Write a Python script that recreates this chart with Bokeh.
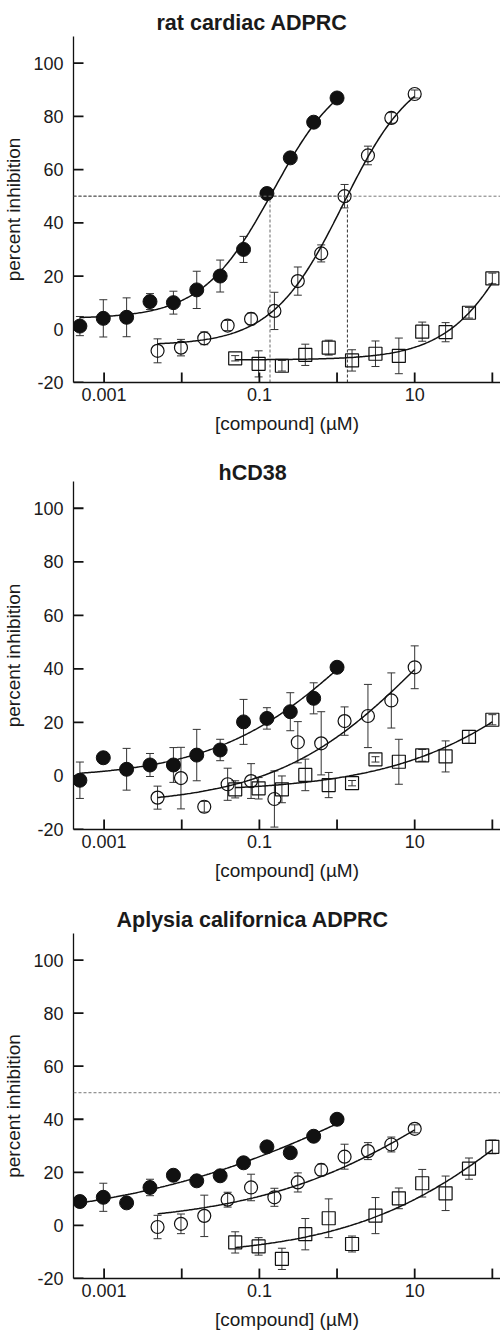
import numpy as np
from bokeh.plotting import figure
from bokeh.models import (Range1d, FixedTicker, CustomJSTickFormatter, Whisker,
                          ColumnDataSource, Title, TeeHead, Span)
from bokeh.layouts import column
from bokeh.embed import file_html
from bokeh.resources import INLINE

FONT = "Liberation Sans"
TXT = "#1a1a1a"

# ---------------- data ----------------
conc_filled = [0.000488, 0.000977, 0.00195, 0.0039, 0.00781, 0.0156, 0.03125, 0.0625, 0.125, 0.25, 0.5, 1.0]
conc_open = [0.00488, 0.00977, 0.0195, 0.039, 0.0781, 0.156, 0.3125, 0.625, 1.25, 2.5, 5.0, 10.0]
conc_square = [0.0488, 0.0977, 0.195, 0.39, 0.781, 1.56, 3.125, 6.25, 12.5, 25.0, 50.0, 100.0]

y_ticks = [-20, 0, 20, 40, 60, 80, 100]
x_major = [0.001, 0.1, 10]
x_minor = [0.01, 1, 100]
x_lo, x_hi = 10 ** -3.394, 10 ** 2.105
y_lo, y_hi = -20, 110

# panel 1: rat cardiac ADPRC
rat_filled = [1.2, 4.1, 4.5, 10.4, 10.0, 14.8, 20.0, 30.0, 51.0, 64.4, 77.8, 86.9]
rat_filled_err = [3.6, 7.0, 7.3, 3.0, 4.3, 7.0, 6.0, 4.9, 1.0, 1.0, 1.0, 1.0]
rat_open = [-8.1, -6.9, -3.4, 1.4, 3.9, 6.9, 18.1, 28.5, 50.0, 65.3, 79.4, 88.4]
rat_open_err = [4.5, 3.1, 2.4, 1.9, 2.2, 7.0, 5.3, 3.2, 4.4, 3.5, 2.0, 1.5]
rat_square = [-10.9, -13.0, -13.7, -9.6, -6.9, -11.7, -9.2, -10.0, -0.9, -1.1, 6.2, 19.1]
rat_square_err = [1.0, 4.9, 2.0, 4.0, 2.8, 4.0, 4.8, 6.7, 3.6, 3.6, 2.0, 2.0]
# fit parameters [bottom, top, IC50, Hill]
rat_fit_filled = [4.0, 100.0, 0.15, 0.95]
rat_fit_open = [-6.0, 100.0, 1.2, 0.95]
rat_fit_square = [-11.5, 100.0, 319.0, 0.9]
rat_ic50 = [0.137, 1.36]

# panel 2: hCD38
cd38_filled = [-1.6, 6.8, 2.5, 4.1, 4.1, 7.8, 9.7, 20.2, 21.5, 24.0, 29.0, 40.6]
cd38_filled_err = [6.8, 2.0, 7.8, 4.3, 6.5, 9.6, 4.0, 8.4, 4.0, 7.1, 5.8, 2.0]
cd38_open = [-8.1, -0.8, -11.5, -3.1, -1.9, -8.6, 12.6, 12.2, 20.5, 22.4, 28.2, 40.6]
cd38_open_err = [4.3, 11.5, 2.0, 6.0, 6.5, 10.5, 7.7, 11.8, 5.3, 11.8, 10.3, 8.0]
cd38_square = [-5.0, -4.6, -5.0, 0.4, -3.4, -2.7, 6.2, 5.3, 7.7, 7.3, 14.6, 21.0]
cd38_square_err = [3.2, 4.0, 5.0, 5.9, 4.7, 1.0, 1.0, 8.4, 2.2, 5.8, 2.4, 1.9]
cd38_fit_filled = [-1.0, 100.0, 2.33, 0.46]
cd38_fit_open = [-11.0, 100.0, 14.6, 0.45]
cd38_fit_square = [-6.0, 100.0, 1620.0, 0.4]

# panel 3: Aplysia californica ADPRC
apl_filled = [9.0, 10.6, 8.5, 14.3, 18.9, 16.8, 18.7, 23.6, 29.6, 27.4, 33.6, 40.0]
apl_filled_err = [1.5, 5.3, 2.0, 3.1, 1.5, 2.0, 1.5, 1.5, 1.5, 1.5, 1.5, 1.5]
apl_open = [-0.6, 0.6, 3.6, 9.7, 14.3, 10.6, 16.2, 20.9, 25.9, 28.0, 30.5, 36.4]
apl_open_err = [4.4, 3.7, 7.8, 2.8, 5.0, 3.4, 3.6, 2.2, 4.7, 3.2, 2.8, 1.5]
apl_square = [-6.4, -7.9, -12.6, -3.3, 2.7, -7.0, 3.7, 10.2, 15.9, 12.1, 21.4, 29.6]
apl_square_err = [4.0, 3.3, 4.0, 5.9, 7.3, 3.0, 6.8, 3.9, 5.2, 6.5, 4.0, 2.6]
apl_fit_filled = [0.0, 100.0, 6.7, 0.25]
apl_fit_open = [0.0, 100.0, 57.0, 0.33]
apl_fit_square = [-12.0, 100.0, 464.0, 0.37]

half_line = 50

FRAME_W = 427      # px, 500 - left border
TICK_PX = 10       # inward tick length


def hill(x, params):
    b, t, c, h = params
    return b + (t - b) / (1.0 + (c / x) ** h)


def add_series(p, conc, vals, errs, fit, kind):
    conc = np.array(conc)
    vals = np.array(vals)
    errs = np.array(errs)
    src = ColumnDataSource(dict(x=conc, y=vals, upper=vals + errs, lower=vals - errs))
    w = Whisker(source=src, base="x", upper="upper", lower="lower", dimension="height",
                line_color="#333333", line_width=1,
                upper_head=TeeHead(size=8, line_color="#333333", line_width=1),
                lower_head=TeeHead(size=8, line_color="#333333", line_width=1))
    p.add_layout(w)
    xs = np.logspace(np.log10(conc[0]), np.log10(conc[-1]), 200)
    p.line(xs, hill(xs, fit), line_color="#111111", line_width=1.5)
    if kind == "filled":
        p.scatter("x", "y", source=src, marker="circle", size=14,
                  fill_color="#111111", line_color="#111111")
    elif kind == "open":
        p.scatter("x", "y", source=src, marker="circle", size=13,
                  fill_color=None, line_color="#111111", line_width=1.2)
    else:
        p.scatter("x", "y", source=src, marker="square", size=13,
                  fill_color=None, line_color="#111111", line_width=1.2)


def make_panel(title, title_offset, title_standoff, height, top, bottom):
    frame_h = height - top - bottom
    p = figure(width=500, height=height, x_axis_type="log",
               x_range=Range1d(x_lo, x_hi), y_range=Range1d(y_lo, y_hi),
               output_backend="svg", toolbar_location=None,
               min_border_left=73, min_border_right=0,
               min_border_top=top, min_border_bottom=bottom)
    p.title = Title(text=title, align="left", offset=title_offset, standoff=title_standoff,
                    text_font=FONT, text_font_size="21.5px", text_font_style="bold",
                    text_color=TXT)
    p.outline_line_color = None
    p.xgrid.grid_line_color = None
    p.ygrid.grid_line_color = None
    p.background_fill_color = "white"
    p.border_fill_color = "white"

    p.xaxis.ticker = FixedTicker(ticks=x_major, minor_ticks=x_minor)
    p.xaxis.formatter = CustomJSTickFormatter(code="return tick.toString()")
    p.yaxis.ticker = FixedTicker(ticks=y_ticks)
    p.yaxis.formatter = CustomJSTickFormatter(code="return tick.toString()")
    for ax in (p.xaxis[0], p.yaxis[0]):
        ax.major_tick_in = 0
        ax.major_tick_out = 0
        ax.minor_tick_in = 0
        ax.minor_tick_out = 0
        ax.major_tick_line_color = None
        ax.minor_tick_line_color = None
        ax.axis_line_width = 1.3
        ax.axis_line_color = "#111111"
        ax.major_label_text_font = FONT
        ax.major_label_text_font_size = "18px"
        ax.major_label_text_color = TXT
        ax.axis_label_text_font = FONT
        ax.axis_label_text_font_size = "19px"
        ax.axis_label_text_font_style = "normal"
        ax.axis_label_text_color = TXT
    p.xaxis.major_label_standoff = 5
    p.xaxis.axis_label_standoff = 9
    p.yaxis.major_label_standoff = 10
    p.yaxis.axis_label_standoff = 6
    p.xaxis.axis_label = "[compound] (µM)"
    p.yaxis.axis_label = "percent inhibition"

    # inward tick marks (10 px) drawn inside the frame from the tick arrays
    dx = 10 ** (np.log10(x_lo) + TICK_PX * (np.log10(x_hi) - np.log10(x_lo)) / FRAME_W)
    dy = y_lo + TICK_PX * (y_hi - y_lo) / frame_h
    p.segment(x0=[x_lo] * len(y_ticks), y0=y_ticks, x1=[dx] * len(y_ticks), y1=y_ticks,
              line_color="#111111", line_width=1.8)
    xt = x_major + x_minor
    p.segment(x0=xt, y0=[y_lo] * len(xt), x1=xt, y1=[dy] * len(xt),
              line_color="#111111", line_width=1.8)
    return p


# ---- panel 1 ----
p1 = make_panel("rat cardiac ADPRC", 83, 4, 445, 36, 63)
p1.add_layout(Span(location=half_line, dimension="width", line_color="#777777",
                   line_dash="3 2", line_width=1))
p1.segment(x0=[x_lo], y0=[half_line], x1=[rat_ic50[1]], y1=[half_line],
           line_color="#333333", line_dash="3 2", line_width=1)
p1.segment(x0=rat_ic50, y0=[y_lo, y_lo], x1=rat_ic50, y1=[half_line, half_line],
           line_color=["#666666", "#333333"], line_dash="3 2", line_width=1)
add_series(p1, conc_filled, rat_filled, rat_filled_err, rat_fit_filled, "filled")
add_series(p1, conc_open, rat_open, rat_open_err, rat_fit_open, "open")
add_series(p1, conc_square, rat_square, rat_square_err, rat_fit_square, "square")

# ---- panel 2 ----
p2 = make_panel("hCD38", 145, -6, 448, 36, 64)
add_series(p2, conc_filled, cd38_filled, cd38_filled_err, cd38_fit_filled, "filled")
add_series(p2, conc_open, cd38_open, cd38_open_err, cd38_fit_open, "open")
add_series(p2, conc_square, cd38_square, cd38_square_err, cd38_fit_square, "square")

# ---- panel 3 ----
p3 = make_panel("Aplysia californica ADPRC", 43, 4, 439, 40, 52)
p3.add_layout(Span(location=half_line, dimension="width", line_color="#777777",
                   line_dash="3 2", line_width=1))
add_series(p3, conc_filled, apl_filled, apl_filled_err, apl_fit_filled, "filled")
add_series(p3, conc_open, apl_open, apl_open_err, apl_fit_open, "open")
add_series(p3, conc_square, apl_square, apl_square_err, apl_fit_square, "square")

layout = column(p1, p2, p3, spacing=0)
open("out.html", "w").write(file_html(layout, INLINE))
